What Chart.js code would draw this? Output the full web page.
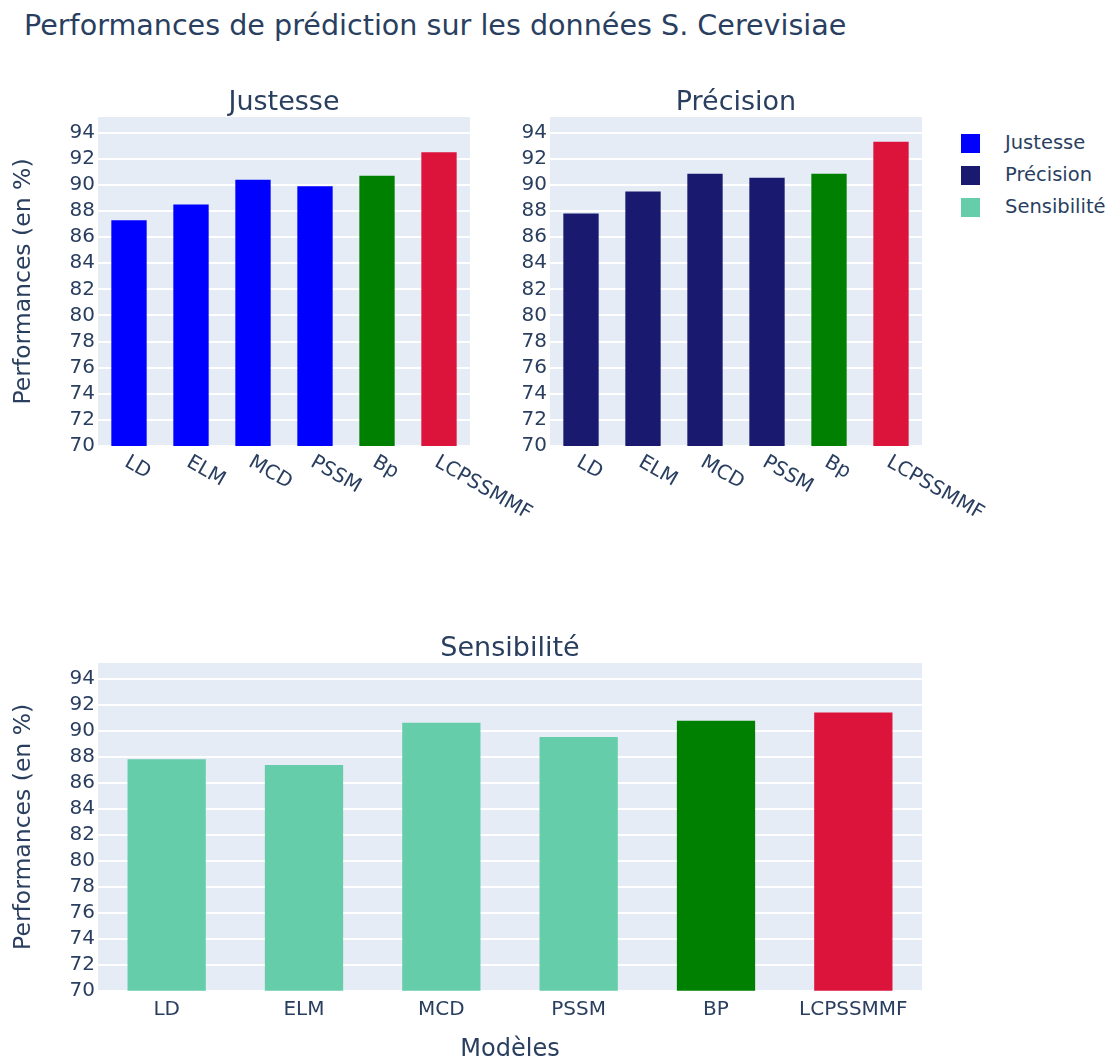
<!DOCTYPE html>
<html><head><meta charset="utf-8">
<script src="https://cdn.jsdelivr.net/npm/chart.js@4.4.1/dist/chart.umd.min.js"></script>
<style>
html,body{margin:0;padding:0;background:#fff;}
body{width:1113px;height:1062px;position:relative;overflow:hidden;font-family:'DejaVu Sans',sans-serif;color:#2a3f5f;}
canvas{position:absolute;}
#title{position:absolute;left:24px;top:11px;font-size:28.6px;line-height:28px;white-space:nowrap;}
#legend{position:absolute;left:961px;top:134px;}
.li{position:relative;height:32px;font-size:19.5px;line-height:20px;}
.sw{position:absolute;left:0;top:0;width:19px;height:19px;}
.lt{position:absolute;left:44px;top:-1px;white-space:nowrap;}
</style></head><body>
<div id="title">Performances de prédiction sur les données S. Cerevisiae</div>
<div id="legend"></div>
<canvas id="c1" width="560" height="560" style="left:0;top:0"></canvas>
<canvas id="c2" width="560" height="560" style="left:480px;top:0"></canvas>
<canvas id="c3" width="940" height="502" style="left:0;top:560px"></canvas>
<script>
// ---- data ----
const categoriesTop = ['LD', 'ELM', 'MCD', 'PSSM', 'Bp', 'LCPSSMMF'];
const categoriesBottom = ['LD', 'ELM', 'MCD', 'PSSM', 'BP', 'LCPSSMMF'];
const justesse = [87.3, 88.5, 90.4, 89.9, 90.7, 92.5];
const precision = [87.8, 89.5, 90.85, 90.55, 90.85, 93.3];
const sensibilite = [87.8, 87.35, 90.6, 89.5, 90.75, 91.4];
const seriesNames = ['Justesse', 'Précision', 'Sensibilité'];
const seriesColors = ['#0000FF', '#191970', '#66CDAA'];
const highlightColors = [null, null, null, null, '#008000', '#DC143C'];
const yTickMin = 70, yTickMax = 95.2, yTickStep = 2;
const yTitle = 'Performances (en %)';
const xTitle = 'Modèles';

// ---- style ----
const TEXT = '#2a3f5f';
const PLOT_BG = '#E5ECF6';
const FONT = "'DejaVu Sans', sans-serif";
Chart.defaults.font.family = FONT;
Chart.defaults.color = TEXT;

// legend (HTML)
const leg = document.getElementById('legend');
seriesNames.forEach((n, i) => {
  const d = document.createElement('div'); d.className = 'li';
  d.innerHTML = '<div class="sw" style="background:' + seriesColors[i] + '"></div><div class="lt">' + n + '</div>';
  leg.appendChild(d);
});

const bgPlugin = {
  id: 'plotBg',
  beforeDraw(chart) {
    const {ctx, chartArea: a} = chart;
    ctx.save(); ctx.fillStyle = PLOT_BG;
    ctx.fillRect(a.left, a.top, a.right - a.left, a.bottom - a.top);
    ctx.restore();
  }
};
const subTitle = {
  id: 'subTitle',
  afterDraw(chart, args, o) {
    const {ctx, chartArea: a} = chart;
    ctx.save();
    ctx.font = o.size + 'px ' + FONT;
    ctx.fillStyle = TEXT; ctx.textAlign = 'center'; ctx.textBaseline = 'middle';
    ctx.fillText(o.text, (a.left + a.right) / 2, a.top - o.gap);
    ctx.restore();
  }
};
const angledLabels = {
  id: 'angledLabels',
  afterDraw(chart, args, o) {
    if (!o || !o.enabled) return;
    const sx = chart.scales.x, ctx = chart.ctx;
    ctx.save();
    ctx.font = o.size + 'px ' + FONT;
    ctx.fillStyle = TEXT; ctx.textAlign = 'left'; ctx.textBaseline = 'middle';
    chart.data.labels.forEach((lab, i) => {
      const x = sx.getPixelForTick(i);
      ctx.save();
      ctx.translate(x + o.dx, sx.top + o.dy);
      ctx.rotate(Math.PI / 6);
      ctx.fillText(lab, 0, 0);
      ctx.restore();
    });
    ctx.restore();
  }
};

function colorsFor(base) { return highlightColors.map(c => c || base); }

function makeChart(id, cfg) {
  const yScale = {
    min: yTickMin, max: yTickMax,
    grid: {color: '#ffffff', lineWidth: 2, drawTicks: false},
    border: {display: false},
    ticks: {stepSize: yTickStep, includeBounds: false, padding: 3, font: {size: 20}, color: TEXT},
    afterFit: s => { s.width = cfg.yWidth; },
    title: cfg.yTitle ? {display: true, text: yTitle, font: {size: 23.5, lineHeight: 1}, color: TEXT, padding: {top: 12.5, bottom: 0}} : {display: false}
  };
  const xScale = {
    grid: {display: false, drawTicks: false},
    border: {display: false},
    ticks: cfg.angled ? {display: false, autoSkip: false} : {display: true, autoSkip: false, maxRotation: 0, minRotation: 0, padding: 7, font: {size: 20}, color: TEXT},
    afterFit: s => { s.height = cfg.xHeight; },
    title: cfg.xTitle ? {display: true, text: xTitle, font: {size: 24, lineHeight: 1}, color: TEXT, padding: {top: 0, bottom: 0}} : {display: false}
  };
  return new Chart(document.getElementById(id), {
    type: 'bar',
    data: {
      labels: cfg.labels,
      datasets: [{label: cfg.name, data: cfg.data, backgroundColor: colorsFor(cfg.color), borderWidth: 0,
                  barPercentage: 0.57, categoryPercentage: 1.0}]
    },
    options: {
      responsive: false, animation: false, devicePixelRatio: 1,
      layout: {padding: {left: 0, right: cfg.padRight, top: cfg.padTop, bottom: 0}},
      plugins: {
        legend: {display: false}, tooltip: {enabled: false}, title: {display: false},
        subTitle: {text: cfg.name, size: 27, gap: 14.5},
        angledLabels: {enabled: cfg.angled, size: 20, dx: -3, dy: 15}
      },
      scales: {x: xScale, y: yScale}
    },
    plugins: [bgPlugin, subTitle, angledLabels]
  });
}

makeChart('c1', {labels: categoriesTop, name: seriesNames[0], data: justesse, color: seriesColors[0],
  yWidth: 98, padRight: 90, padTop: 117, xHeight: 114, angled: true, yTitle: true, xTitle: false});
makeChart('c2', {labels: categoriesTop, name: seriesNames[1], data: precision, color: seriesColors[1],
  yWidth: 70, padRight: 118, padTop: 117, xHeight: 114, angled: true, yTitle: false, xTitle: false});
makeChart('c3', {labels: categoriesBottom, name: seriesNames[2], data: sensibilite, color: seriesColors[2],
  yWidth: 98, padRight: 18, padTop: 103, xHeight: 71.3, angled: false, yTitle: true, xTitle: true});
</script>
</body></html>
